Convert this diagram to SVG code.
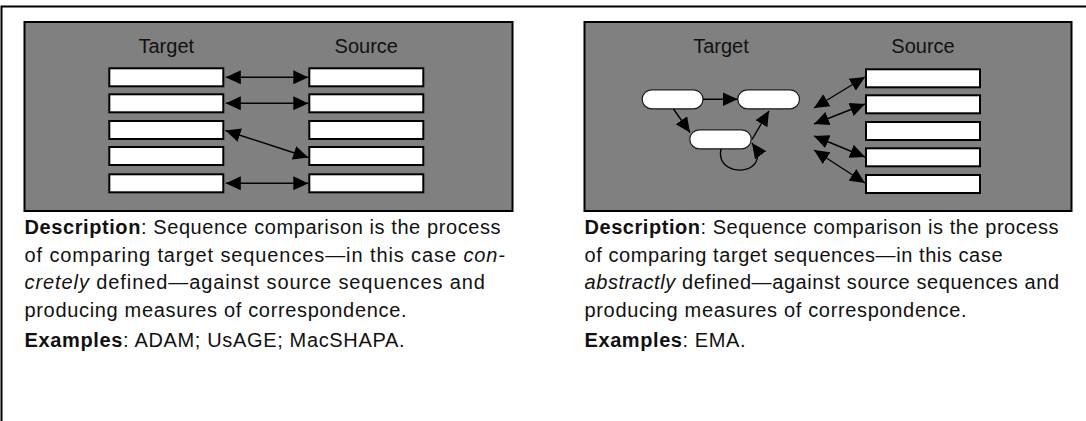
<svg xmlns="http://www.w3.org/2000/svg" width="1086" height="421" viewBox="0 0 1086 421">
<style>
.panel{fill:#808080;stroke:#000;stroke-width:2}
.box{fill:#fff;stroke:#000;stroke-width:2}
.pill{fill:#fff;stroke:#1a1a1a;stroke-width:1.2}
.ln{fill:none;stroke:#000;stroke-width:1.4}
.dbl{marker-start:url(#ah);marker-end:url(#ah)}
.one{marker-end:url(#ah)}
.lbl{font-family:"Liberation Sans",Arial,Helvetica,sans-serif;font-size:20px;fill:#111;text-anchor:middle}
.tx{font-family:"Liberation Sans",Arial,Helvetica,sans-serif;font-size:20px;fill:#111}
.b{font-weight:bold}
.i{font-style:italic}
</style>
<defs>
<marker id="ah" viewBox="0 0 15 15" refX="15" refY="7.5" markerWidth="15" markerHeight="15" markerUnits="userSpaceOnUse" orient="auto-start-reverse">
<path d="M0,0.5 L15,7.5 L0,14.5 z" fill="#000"/>
</marker>
</defs>
<rect width="1086" height="421" fill="#fff"/>
<rect id="frame" x="1.5" y="6.5" width="1200" height="600" fill="none" stroke="#000" stroke-width="2"/>

<!-- Panel 1: concrete -->
<g id="panel-concrete">
<rect class="panel" x="24.5" y="22" width="488" height="189"/>
<text class="lbl" x="166.3" y="52.7">Target</text>
<text class="lbl" x="366.3" y="52.7">Source</text>
</g>
<g id="p1-t1"><rect class="box" x="109.3" y="68.3" width="114" height="18"/></g>
<g id="p1-t2"><rect class="box" x="109.3" y="94.3" width="114" height="18"/></g>
<g id="p1-t3"><rect class="box" x="109.3" y="121" width="114" height="18"/></g>
<g id="p1-t4"><rect class="box" x="109.3" y="147" width="114" height="18"/></g>
<g id="p1-t5"><rect class="box" x="109.3" y="174.3" width="114" height="18"/></g>
<g id="p1-s1"><rect class="box" x="309.3" y="68.3" width="114" height="18"/></g>
<g id="p1-s2"><rect class="box" x="309.3" y="94.3" width="114" height="18"/></g>
<g id="p1-s3"><rect class="box" x="309.3" y="121" width="114" height="18"/></g>
<g id="p1-s4"><rect class="box" x="309.3" y="147" width="114" height="18"/></g>
<g id="p1-s5"><rect class="box" x="309.3" y="174.3" width="114" height="18"/></g>

<!-- Panel 2: abstract -->
<g id="panel-abstract">
<rect class="panel" x="584.5" y="22" width="487" height="189"/>
<text class="lbl" x="721" y="52.7">Target</text>
<text class="lbl" x="923" y="52.7">Source</text>
</g>
<g id="p2-a"><rect class="pill" x="642.2" y="89.8" width="60.8" height="19" rx="9.5"/></g>
<g id="p2-b"><rect class="pill" x="737.8" y="89.8" width="61.7" height="19" rx="9.5"/></g>
<g id="p2-c"><rect class="pill" x="689.8" y="129.8" width="61.4" height="19" rx="9.5"/></g>
<g id="p2-s1"><rect class="box" x="866" y="69.3" width="114" height="18"/></g>
<g id="p2-s2"><rect class="box" x="866" y="95.3" width="114" height="18"/></g>
<g id="p2-s3"><rect class="box" x="866" y="122" width="114" height="18"/></g>
<g id="p2-s4"><rect class="box" x="866" y="148.3" width="114" height="18"/></g>
<g id="p2-s5"><rect class="box" x="866" y="175" width="114" height="18"/></g>

<g id="connectors">
<path class="ln dbl" d="M225.8,77.3 L308.3,77.3"/>
<path class="ln dbl" d="M225.8,103.3 L308.3,103.3"/>
<path class="ln dbl" d="M225.5,130.5 L308.3,157.5"/>
<path class="ln dbl" d="M225.8,183.3 L308.3,183.3"/>
<path class="ln one" d="M703,99.3 L737.6,99.3"/>
<path class="ln one" d="M673.5,109 L690,132.5"/>
<path class="ln one" d="M752,139.5 L769,110.8"/>
<path class="ln one" d="M721,149 C716,172 748,176 756,162 C759,157 757,150 752,143"/>
<path class="ln dbl" d="M814,108 L865,77"/>
<path class="ln dbl" d="M814,124 L865,104"/>
<path class="ln dbl" d="M814,136 L865,157"/>
<path class="ln dbl" d="M814,150 L865,183"/>
</g>

<g id="text-concrete">
<text class="tx" x="24.5" y="234" textLength="476" lengthAdjust="spacing"><tspan class="b">Description</tspan>: Sequence comparison is the process</text>
<text class="tx" x="24.5" y="261.5" textLength="480.5" lengthAdjust="spacing">of comparing target sequences—in this case <tspan class="i">con-</tspan></text>
<text class="tx" x="24.5" y="289" textLength="460.5" lengthAdjust="spacing"><tspan class="i">cretely</tspan> defined—against source sequences and</text>
<text class="tx" x="24.5" y="316.5" textLength="382" lengthAdjust="spacing">producing measures of correspondence.</text>
<text class="tx" x="24.5" y="347" textLength="380" lengthAdjust="spacing"><tspan class="b">Examples</tspan>: ADAM; UsAGE; MacSHAPA.</text>
</g>
<g id="text-abstract">
<text class="tx" x="584.5" y="234" textLength="474" lengthAdjust="spacing"><tspan class="b">Description</tspan>: Sequence comparison is the process</text>
<text class="tx" x="584.5" y="261.5" textLength="418" lengthAdjust="spacing">of comparing target sequences—in this case</text>
<text class="tx" x="584.5" y="289" textLength="474.5" lengthAdjust="spacing"><tspan class="i">abstractly</tspan> defined—against source sequences and</text>
<text class="tx" x="584.5" y="316.5" textLength="382" lengthAdjust="spacing">producing measures of correspondence.</text>
<text class="tx" x="584.5" y="347" textLength="161" lengthAdjust="spacing"><tspan class="b">Examples</tspan>: EMA.</text>
</g>
</svg>
